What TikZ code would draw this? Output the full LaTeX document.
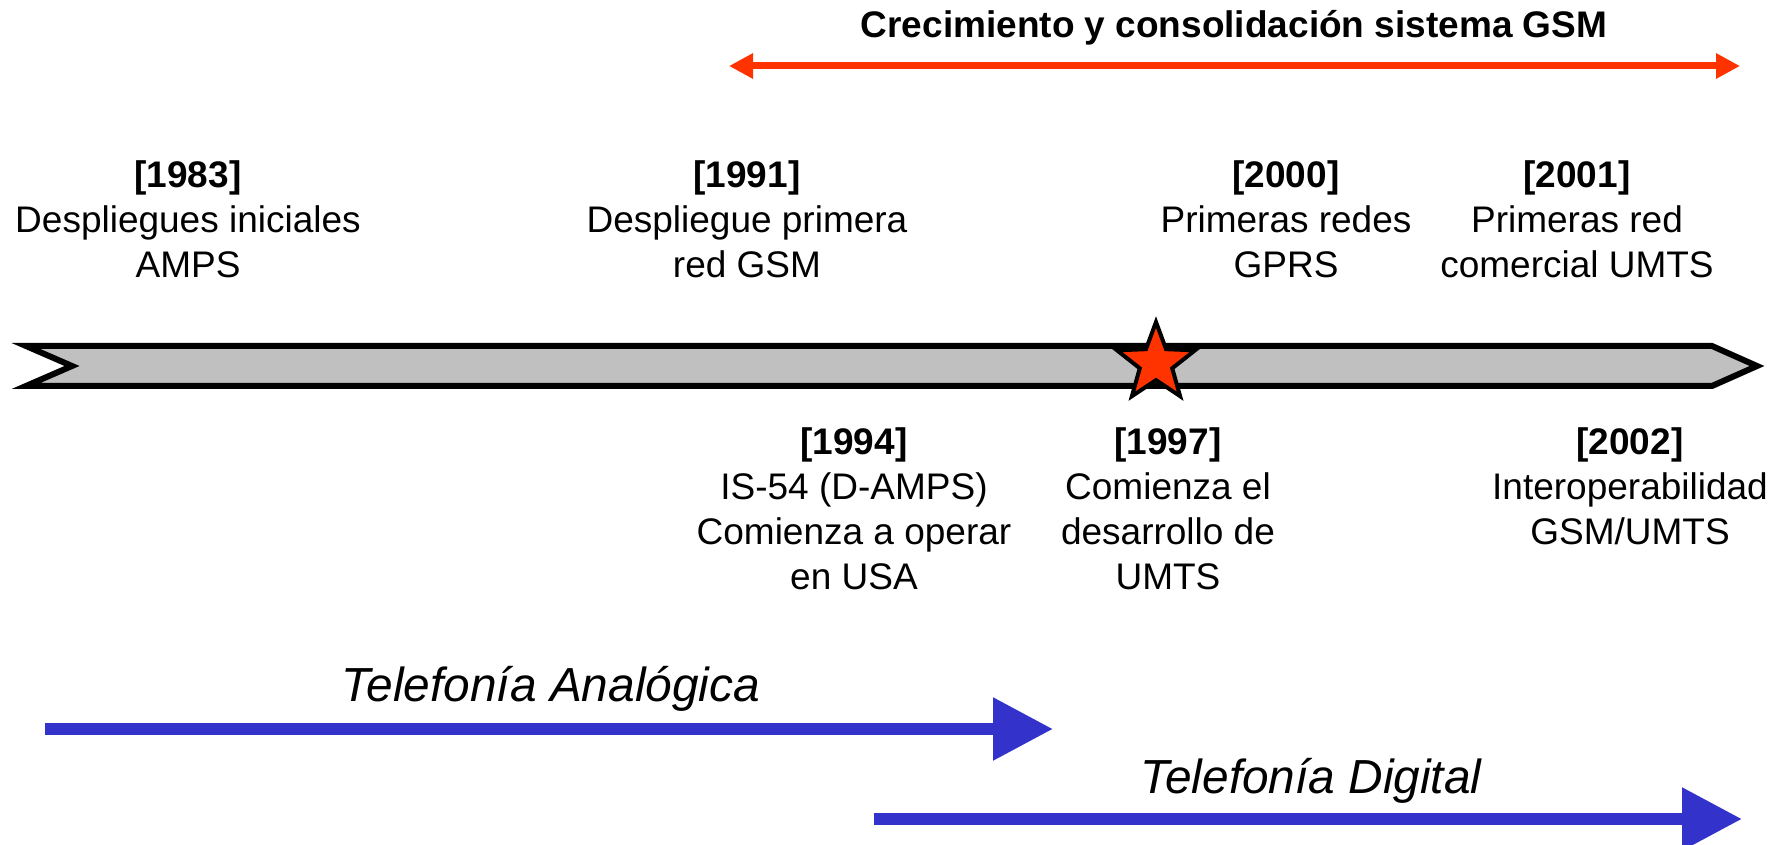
\documentclass[tikz,border=0pt]{standalone}
\usepackage{fontspec}
\setmainfont{Liberation Sans}
\usetikzlibrary{arrows.meta,shapes.geometric}
\definecolor{gsmred}{HTML}{FF3300}
\definecolor{eraBlue}{HTML}{3333CC}
\definecolor{barGray}{HTML}{C0C0C0}
\begin{document}
\begin{tikzpicture}[x=0.5pt,y=-0.5pt,
  lbl/.style={align=center, inner sep=0pt, anchor=north, font=\fontsize{18.5}{22.5}\selectfont},
  ttl/.style={inner sep=0pt, anchor=base, font=\fontsize{18.5}{22.5}\selectfont\bfseries},
  era/.style={inner sep=0pt, anchor=base, font=\fontsize{23.9}{28}\selectfont\itshape},
  bar/.style={draw=black, line width=3pt, fill=barGray},
  mark star/.style={star, star points=5, star point ratio=2.4, minimum size=41pt, inner sep=0pt, draw=black, line width=2pt, fill=gsmred},
  redarrow/.style={draw=gsmred, line width=3.5pt, {Triangle[length=12pt,width=12pt]}-{Triangle[length=12pt,width=12pt]}},
  bluearrow/.style={draw=eraBlue, line width=6pt, -{Triangle[length=30pt,width=30pt]}},
]
\useasboundingbox (0,0) rectangle (1785,845);

% timeline bar
\draw[bar] (26,346) -- (72,366) -- (26,386) -- (1712,386) -- (1757,366) -- (1712,346) -- cycle;
\node[mark star] (star) at (1156,363) {};

% GSM growth arrow
\node[ttl] (gsm) at (1234,38) {Crecimiento y consolidación sistema GSM};
\coordinate (gsmL) at (729,66);
\coordinate (gsmR) at (1740,66);
\draw[redarrow] (gsmL) -- (gsmR);

% upper labels
\node[lbl] (n1983) at (188,160) {\textbf{[1983]}\\Despliegues iniciales\\AMPS};
\node[lbl] (n1991) at (747,160) {\textbf{[1991]}\\Despliegue primera\\red GSM};
\node[lbl] (n2000) at (1286,160) {\textbf{[2000]}\\Primeras redes\\GPRS};
\node[lbl] (n2001) at (1577,160) {\textbf{[2001]}\\Primeras red\\comercial UMTS};

% lower labels
\node[lbl] (n1994) at (854,427) {\textbf{[1994]}\\IS-54 (D-AMPS)\\Comienza a operar\\en USA};
\node[lbl] (n1997) at (1168,427) {\textbf{[1997]}\\Comienza el\\desarrollo de\\UMTS};
\node[lbl] (n2002) at (1630,427) {\textbf{[2002]}\\Interoperabilidad\\GSM/UMTS};

% eras
\node[era] (analog) at (551,701) {Telefonía Analógica};
\coordinate (anaL) at (45,729);
\coordinate (anaR) at (1053,729);
\draw[bluearrow] (anaL) -- (anaR);

\node[era] (digital) at (1311,793) {Telefonía Digital};
\coordinate (digL) at (874,819);
\coordinate (digR) at (1742,819);
\draw[bluearrow] (digL) -- (digR);
\end{tikzpicture}
\end{document}
